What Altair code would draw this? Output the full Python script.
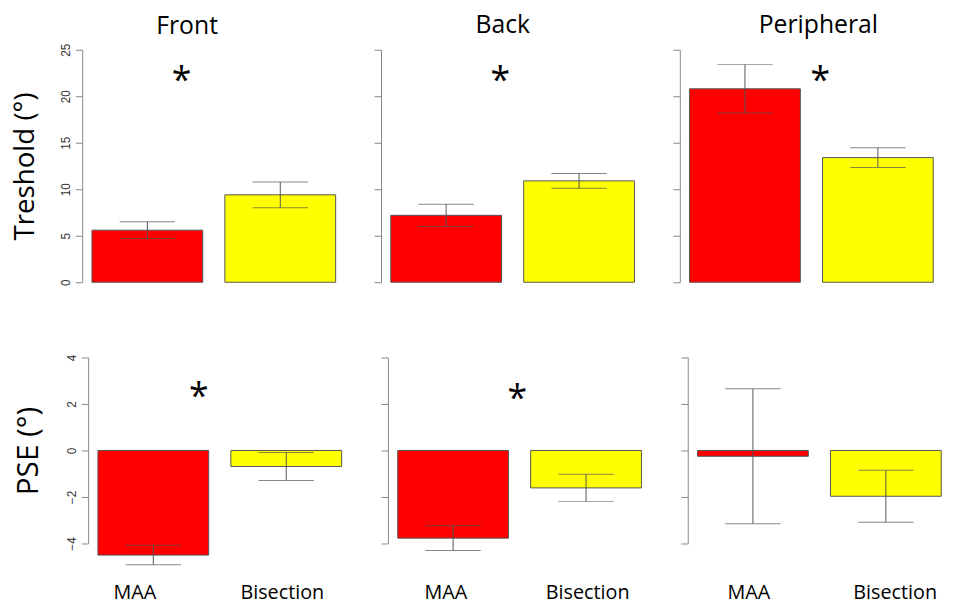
import altair as alt
import pandas as pd

# ---- data ----
panels = ["Front", "Back", "Peripheral"]
conditions = ["MAA", "Bisection"]
colors = ["#FF0000", "#FFFF00"]

threshold_mean = [5.6, 9.4, 7.2, 10.9, 20.8, 13.4]
threshold_err = [0.9, 1.38, 1.2, 0.8, 2.6, 1.05]
pse_mean = [-4.5, -0.69, -3.77, -1.61, -0.25, -1.97]
pse_err = [0.42, 0.6, 0.53, 0.59, 2.9, 1.12]

threshold_ticks = [0, 5, 10, 15, 20, 25]
pse_ticks = [-4, -2, 0, 2, 4]

# significance stars (barplot x units, data y)
thr_star_panels = ["Front", "Back", "Peripheral"]
thr_star_x = [1.01, 1.19, 1.38]
thr_star_y = [22.0, 22.0, 22.0]
pse_star_panels = ["Front", "Back"]
pse_star_x = [1.11, 1.28]
pse_star_y = [2.45, 2.4]

# condition label positions (barplot x units) per panel
label_x = {"Front": [0.53, 1.86], "Back": [0.63, 1.91], "Peripheral": [0.66, 1.98]}

# panel title horizontal nudges (px) and vertical offsets
title_dx = [-27, -10, 7]
title_offset = [4, 11, 11]

FONT = "Open Sans"
XDOM_TOP = [0.112, 2.488]   # R barplot xlim (width 1, space 0.2) with 4% extension
XDOM_BOT = [0.058, 2.434]   # bottom row sits a little further right in the figure


def make_df(means, errs):
    rows = []
    for p_i, p in enumerate(panels):
        for c_i, c in enumerate(conditions):
            k = p_i * 2 + c_i
            left = 0.2 + c_i * 1.2
            rows.append(dict(panel=p, condition=c, left=left, right=left + 1.0,
                             center=left + 0.5, mean=means[k],
                             lo=means[k] - errs[k], hi=means[k] + errs[k]))
    return pd.DataFrame(rows)


thr_df = make_df(threshold_mean, threshold_err)
pse_df = make_df(pse_mean, pse_err)
thr_star = pd.DataFrame(dict(panel=thr_star_panels, x=thr_star_x, y=thr_star_y))
pse_star = pd.DataFrame(dict(panel=pse_star_panels, x=pse_star_x, y=pse_star_y))


def panel_chart(df, stars, p_i, ydomain, yticks, ytitle, bottom, height,
                title_size, title_pad, xdom, yoffset):
    p = panels[p_i]
    first = p_i == 0
    xscale = alt.Scale(domain=xdom, nice=False, zero=False)
    yscale = alt.Scale(domain=ydomain, nice=False, zero=False)
    yaxis = alt.Axis(values=yticks, title=ytitle if first else None, labels=first,
                     grid=False, tickSize=7, tickColor="#888", domainColor="#888",
                     offset=yoffset,
                     labelAngle=-90, labelAlign="center", labelBaseline="bottom",
                     labelPadding=3, labelFont="Liberation Sans", labelFontSize=12,
                     labelColor="#333", titleFont=FONT, titleFontSize=title_size,
                     titleFontWeight="normal", titleColor="#000", titlePadding=title_pad)
    if bottom:
        lx = label_x[p]
        expr = "datum.value < 1.3 ? '%s' : '%s'" % (conditions[0], conditions[1])
        xaxis = alt.Axis(values=lx, labelExpr=expr, domain=False, ticks=False, grid=False,
                         title=None, labelFont=FONT, labelFontSize=20, labelColor="#000",
                         labelPadding=40, labelBaseline="top", labelFlush=False)
    else:
        xaxis = None
    d = df[df.panel == p]
    base = alt.Chart(d)
    bars = base.mark_bar(stroke="#555", strokeWidth=1).encode(
        x=alt.X("left:Q", scale=xscale, axis=xaxis),
        x2="right:Q",
        y=alt.Y("mean:Q", scale=yscale, axis=yaxis),
        y2=alt.datum(0),
        color=alt.Color("condition:N", scale=alt.Scale(domain=conditions, range=colors),
                        legend=None),
    )
    rule = base.mark_rule(color="#555", strokeWidth=1).encode(
        x=alt.X("center:Q", scale=xscale, axis=xaxis),
        y=alt.Y("lo:Q", scale=yscale, axis=yaxis), y2="hi:Q")
    cap_lo = base.mark_tick(color="#555", orient="horizontal", size=56, thickness=1).encode(
        x=alt.X("center:Q", scale=xscale, axis=xaxis),
        y=alt.Y("lo:Q", scale=yscale, axis=yaxis))
    cap_hi = base.mark_tick(color="#555", orient="horizontal", size=56, thickness=1).encode(
        x=alt.X("center:Q", scale=xscale, axis=xaxis),
        y=alt.Y("hi:Q", scale=yscale, axis=yaxis))
    layers = [bars, rule, cap_lo, cap_hi]
    s = stars[stars.panel == p]
    if len(s):
        layers.append(alt.Chart(s).mark_text(text="*", font=FONT, fontSize=36, dy=4,
                                             color="#000").encode(
            x=alt.X("x:Q", scale=xscale, axis=xaxis),
            y=alt.Y("y:Q", scale=yscale, axis=yaxis)))
    ch = alt.layer(*layers).properties(width=266, height=height)
    if not bottom:
        ch = ch.properties(title=alt.TitleParams(p, font=FONT, fontSize=25,
                                                 fontWeight="normal", color="#000",
                                                 offset=title_offset[p_i],
                                                 dx=title_dx[p_i]))
    return ch


top = alt.hconcat(*[
    panel_chart(thr_df, thr_star, i, [0, 25], threshold_ticks, "Treshold (°)",
                False, 235, 28, 20, XDOM_TOP, 0) for i in range(3)], spacing=28)
bot = alt.hconcat(*[
    panel_chart(pse_df, pse_star, i, [-4, 4], pse_ticks, "PSE (°)",
                True, 188, 30, 22, XDOM_BOT, -6) for i in range(3)], spacing=35)

chart = alt.vconcat(top, bot, spacing=68).properties(
    padding={"left": 4, "top": 2, "right": 0, "bottom": 0}
).configure_view(stroke=None)

chart.save("out.html", embed_options={"renderer": "svg", "actions": False})
